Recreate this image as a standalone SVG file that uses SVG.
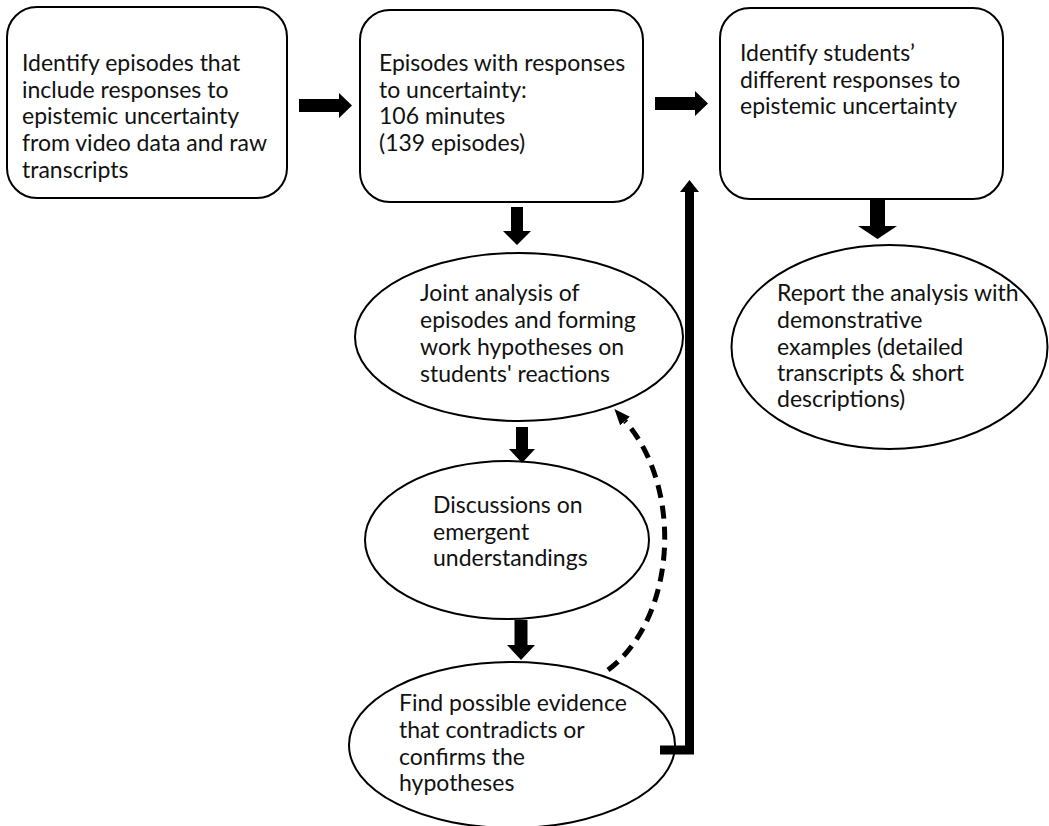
<svg xmlns="http://www.w3.org/2000/svg" width="1049" height="826" viewBox="0 0 1049 826">
<style>
.box{fill:#fff;stroke:#000;stroke-width:2}
.t{font-family:Lato,"Liberation Sans",sans-serif;font-size:23px;fill:#111}
.blk{fill:#000}
.dash{fill:none;stroke:#000;stroke-width:5;stroke-dasharray:13 8}
.thick{fill:none;stroke:#000;stroke-width:9}
</style>
<defs>
<marker id="ah" markerUnits="userSpaceOnUse" viewBox="0 -7 16 14" refX="0" refY="0" markerWidth="16" markerHeight="14" orient="auto">
<path d="M0,-6.5 L16,0 L0,6.5 z" fill="#000"/>
</marker>
</defs>
<rect width="1049" height="826" fill="#fff"/>
<g id="n1">
<rect class="box" x="7" y="7" width="280" height="191" rx="30"/>
<text class="t" x="22"><tspan x="22" y="71">Identify episodes that</tspan><tspan x="22" y="98">include responses to</tspan><tspan x="22" y="124">epistemic uncertainty</tspan><tspan x="22" y="151">from video data and raw</tspan><tspan x="22" y="178">transcripts</tspan></text>
</g>
<g id="n2">
<rect class="box" x="360" y="10" width="283" height="192" rx="30"/>
<text class="t"><tspan x="379" y="71">Episodes with responses</tspan><tspan x="379" y="98">to uncertainty:</tspan><tspan x="379" y="124">106 minutes</tspan><tspan x="379" y="151">(139 episodes)</tspan></text>
</g>
<g id="n3">
<rect class="box" x="720" y="8" width="283" height="191" rx="30"/>
<text class="t"><tspan x="740" y="61">Identify students’</tspan><tspan x="740" y="88">different responses to</tspan><tspan x="740" y="114">epistemic uncertainty</tspan></text>
</g>
<g id="n4">
<ellipse class="box" cx="519" cy="337" rx="164" ry="84"/>
<text class="t"><tspan x="420" y="301">Joint analysis of</tspan><tspan x="420" y="328">episodes and forming</tspan><tspan x="420" y="355">work hypotheses on</tspan><tspan x="420" y="382">students' reactions</tspan></text>
</g>
<g id="n5">
<ellipse class="box" cx="507" cy="540" rx="142" ry="79"/>
<text class="t"><tspan x="433" y="513">Discussions on</tspan><tspan x="433" y="540">emergent</tspan><tspan x="433" y="566">understandings</tspan></text>
</g>
<g id="n6">
<ellipse class="box" cx="512" cy="745" rx="163" ry="83"/>
<text class="t"><tspan x="399" y="711">Find possible evidence</tspan><tspan x="399" y="738">that contradicts or</tspan><tspan x="399" y="765">confirms the</tspan><tspan x="399" y="791">hypotheses</tspan></text>
</g>
<g id="n7">
<ellipse class="box" cx="889.5" cy="347" rx="158" ry="102"/>
<text class="t"><tspan x="777" y="301">Report the analysis with</tspan><tspan x="777" y="328">demonstrative</tspan><tspan x="777" y="355">examples (detailed</tspan><tspan x="777" y="381">transcripts &amp; short</tspan><tspan x="777" y="407">descriptions)</tspan></text>
</g>
<g id="connectors">
<polygon class="blk" points="299,99 339,99 339,93 352,105.5 339,118 339,112 299,112"/>
<polygon class="blk" points="655,97 695,97 695,91 708,103.5 695,116 695,110 655,110"/>
<polygon class="blk" points="870,199 885,199 885,226 897,226 877.5,239 858,226 870,226"/>
<polygon class="blk" points="511,207 523,207 523,231 531,231 517,245 503,231 511,231"/>
<polygon class="blk" points="516,427 528,427 528,449 535,449 522,463 509,449 516,449"/>
<polygon class="blk" points="514.5,620 527.5,620 527.5,645 535,645 521,660 507,645 514.5,645"/>
<path class="dash" d="M608,670 A105,149 0 0 0 625,421" marker-end="url(#ah)"/>
<polyline class="thick" points="660,750 689.5,750 689.5,191"/>
<polygon class="blk" points="680,192 699,192 689.5,180"/>
</g>
</svg>
